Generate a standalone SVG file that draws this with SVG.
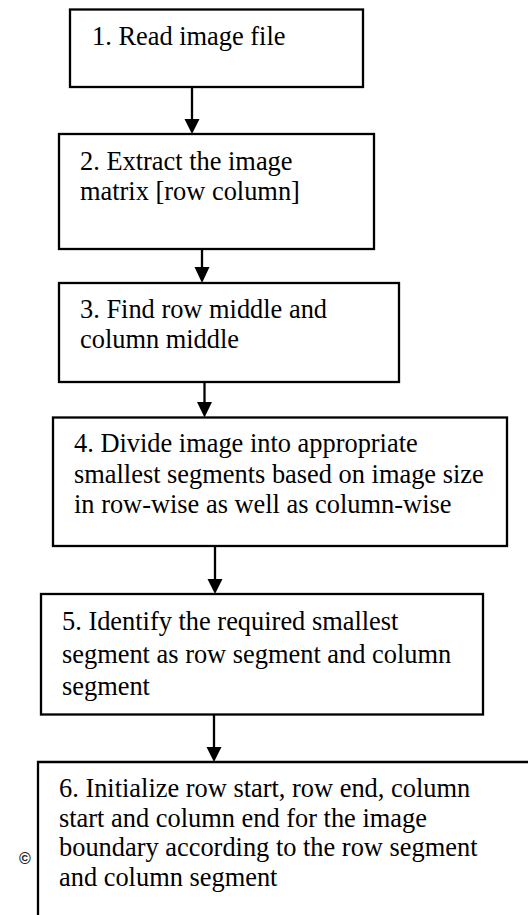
<svg xmlns="http://www.w3.org/2000/svg" width="528" height="915" viewBox="0 0 528 915">
<defs>
<style>
.box{fill:#fff;stroke:#000;stroke-width:2.3}
.t{font-size:26.4px;fill:#000}
.c{stroke:#000;stroke-width:2.3;fill:none}
.copy{font-size:16px;font-weight:bold;fill:#222}
</style>
</defs>
<rect width="528" height="915" fill="#fff"/>
<g id="connectors">
<line class="c" x1="192" y1="87" x2="192" y2="120"/>
<path d="M184.5,119 L199.5,119 L192,134 Z" fill="#000"/>
<line class="c" x1="202" y1="249" x2="202" y2="268"/>
<path d="M194.5,267 L209.5,267 L202,283 Z" fill="#000"/>
<line class="c" x1="204.5" y1="382" x2="204.5" y2="403"/>
<path d="M197,402 L212,402 L204.5,417.5 Z" fill="#000"/>
<line class="c" x1="215" y1="546" x2="215" y2="580"/>
<path d="M207.5,579 L222.5,579 L215,594 Z" fill="#000"/>
<line class="c" x1="214" y1="714.5" x2="214" y2="748"/>
<path d="M206.5,747 L221.5,747 L214,762 Z" fill="#000"/>
</g>
<g font-family="'Liberation Serif', 'Times New Roman', 'DejaVu Serif', serif">
<g id="n1">
<rect class="box" x="70" y="9.5" width="293" height="77.5"/>
<text class="t" x="92" y="45">1. Read image file</text>
</g>
<g id="n2">
<rect class="box" x="59" y="134" width="315" height="115"/>
<text class="t" x="80" y="170">2. Extract the image</text>
<text class="t" x="80" y="199.5">matrix [row column]</text>
</g>
<g id="n3">
<rect class="box" x="59" y="283" width="340" height="99"/>
<text class="t" x="80" y="318">3. Find row middle and</text>
<text class="t" x="80" y="348">column middle</text>
</g>
<g id="n4">
<rect class="box" x="53" y="417.5" width="454" height="128.5"/>
<text class="t" x="74" y="452">4. Divide image into appropriate</text>
<text class="t" x="74" y="483">smallest segments based on image size</text>
<text class="t" x="74" y="513">in row-wise as well as column-wise</text>
</g>
<g id="n5">
<rect class="box" x="41" y="594" width="442" height="120.5"/>
<text class="t" x="62" y="630">5. Identify the required smallest</text>
<text class="t" x="62" y="663">segment as row segment and column</text>
<text class="t" x="62" y="695">segment</text>
</g>
<g id="n6">
<path class="c" d="M38,916 L38,762 L530,762"/>
<text class="t" x="59" y="797">6. Initialize row start, row end, column</text>
<text class="t" x="59" y="827">start and column end for the image</text>
<text class="t" x="59" y="856">boundary according to the row segment</text>
<text class="t" x="59" y="886">and column segment</text>
</g>
</g>
<text class="copy" x="19" y="864" font-family="'Liberation Sans', Arial, sans-serif">©</text>
</svg>
